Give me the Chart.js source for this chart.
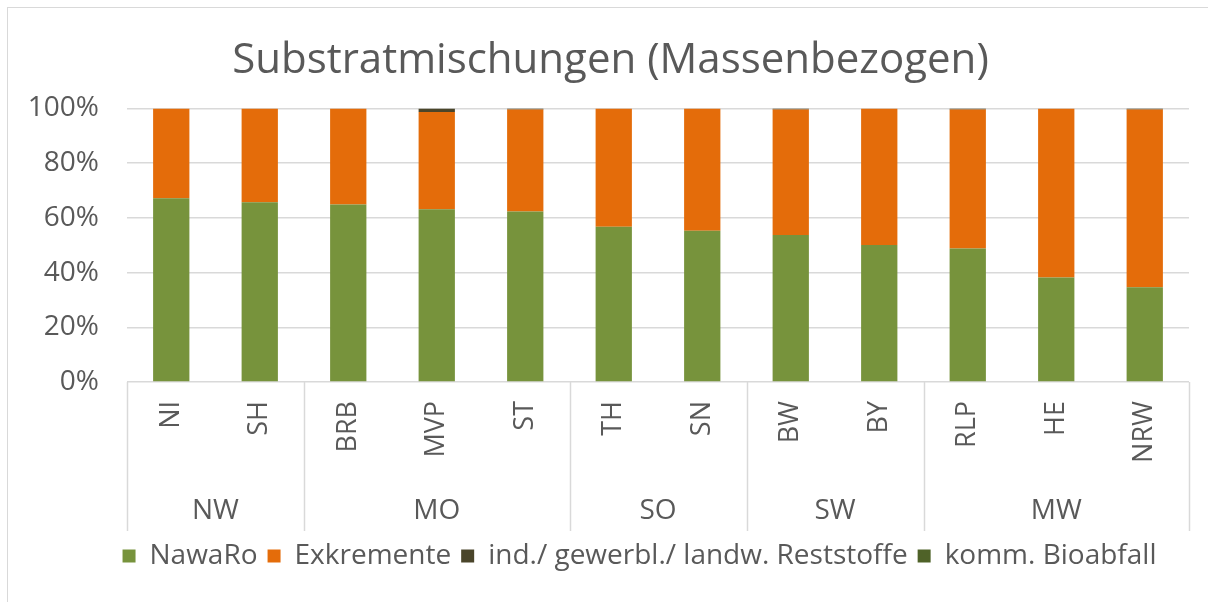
<!DOCTYPE html>
<html>
<head>
<meta charset="utf-8">
<script src="https://cdn.jsdelivr.net/npm/chart.js@4.4.1/dist/chart.umd.min.js"></script>
<style>
  html, body { margin: 0; padding: 0; background: #fff; overflow: hidden; }
  #frame { position: absolute; left: 7px; top: 7px; width: 1400px; height: 800px; border: 1px solid #d9d9d9; }
  #wrap { position: absolute; left: 0; top: 0; width: 1208px; height: 602px; }
</style>
</head>
<body>
<div id="frame"></div>
<div id="wrap"><canvas id="chart"></canvas></div>
<script>
const states = ['NI','SH','BRB','MVP','ST','TH','SN','BW','BY','RLP','HE','NRW'];
const groupNames = ['NW','MO','SO','SW','MW'];
const groupSizes = [2, 3, 2, 2, 3];

const nawaro      = [67.2, 65.7, 64.9, 63.1, 62.3, 56.7, 55.3, 53.7, 50.1, 48.8, 38.2, 34.6];
const exkremente  = [32.8, 34.3, 35.1, 35.6, 37.3, 43.3, 44.7, 45.9, 49.9, 50.8, 61.8, 65.0];
const reststoffe  = [0, 0, 0, 1.3, 0.4, 0, 0, 0.4, 0, 0.4, 0, 0.4];
const bioabfall   = [0, 0, 0, 0, 0, 0, 0, 0, 0, 0, 0, 0];

const yTicks = [0, 20, 40, 60, 80, 100];

const textColor = '#595959';
const fontFam = "'Open Sans', sans-serif";

// group labels + separator lines under the category axis
const groupAxis = {
  id: 'groupAxis',
  afterDraw(chart){
    const x = chart.scales.x;
    const ctx = chart.ctx;
    const top = chart.chartArea.bottom;
    const bottom = top + 149;
    const half = (x.getPixelForValue(1) - x.getPixelForValue(0)) / 2;
    ctx.save();
    ctx.strokeStyle = '#d9d9d9';
    ctx.lineWidth = 1.5;
    ctx.fillStyle = textColor;
    ctx.font = "28px " + fontFam;
    ctx.textAlign = 'center';
    ctx.textBaseline = 'middle';
    let start = 0;
    let lines = [x.left];
    groupSizes.forEach((size, i) => {
      const end = start + size - 1;
      const l = x.getPixelForValue(start) - half;
      const r = x.getPixelForValue(end) + half;
      lines.push(r);
      ctx.fillText(groupNames[i], (l + r) / 2, top + 129);
      start += size;
    });
    lines.forEach(px => {
      ctx.beginPath();
      ctx.moveTo(Math.round(px) + 0.5, top);
      ctx.lineTo(Math.round(px) + 0.5, bottom);
      ctx.stroke();
    });
    ctx.restore();
  }
};

// Excel centres title and legend a bit right of the canvas middle
const nudge = {
  id: 'nudge',
  afterLayout(chart){
    const t = chart.titleBlock, lg = chart.legend;
    if(t){ t.left += 12; t.right += 12; }
    if(lg){ lg.left += 41; lg.right += 41; }
  }
};

new Chart(document.getElementById('chart').getContext('2d'), {
  type: 'bar',
  data: {
    labels: states,
    datasets: [
      { label: 'NawaRo', data: nawaro, backgroundColor: '#77933c' },
      { label: 'Exkremente', data: exkremente, backgroundColor: '#e46c0a' },
      { label: 'ind./ gewerbl./ landw. Reststoffe', data: reststoffe, backgroundColor: '#4a452a' },
      { label: 'komm. Bioabfall', data: bioabfall, backgroundColor: '#4f6228' }
    ]
  },
  options: {
    responsive: true,
    maintainAspectRatio: false,
    animation: false,
    datasets: { bar: { categoryPercentage: 1, barPercentage: 0.41 } },
    layout: { padding: { left: 8, right: 19, top: 0, bottom: 22 } },
    plugins: {
      title: {
        display: true,
        text: 'Substratmischungen (Massenbezogen)',
        color: textColor,
        font: { family: fontFam, size: 42, weight: 'normal' },
        padding: { top: 36, bottom: 22 }
      },
      legend: {
        position: 'bottom',
        labels: {
          color: textColor,
          font: { family: fontFam, size: 28 },
          boxWidth: 13,
          boxHeight: 13,
          padding: 10
        }
      },
      tooltip: { enabled: false }
    },
    scales: {
      x: {
        stacked: true,
        grid: { display: false },
        border: { display: false },
        ticks: {
          color: textColor,
          font: { family: fontFam, size: 27 },
          minRotation: 90,
          maxRotation: 90,
          autoSkip: false,
          padding: 11
        },
        afterFit(scale){ scale.height = 150; }
      },
      y: {
        stacked: true,
        min: 0,
        max: 100,
        afterBuildTicks(scale){ scale.ticks = yTicks.map(v => ({ value: v })); },
        grid: { color: '#d9d9d9', lineWidth: 1.5, drawTicks: false },
        border: { display: false },
        ticks: {
          color: textColor,
          font: { family: fontFam, size: 28 },
          padding: 28,
          callback: v => v + '%'
        },
        afterFit(scale){ scale.width = 119; }
      }
    }
  },
  plugins: [groupAxis, nudge]
});
</script>
</body>
</html>
